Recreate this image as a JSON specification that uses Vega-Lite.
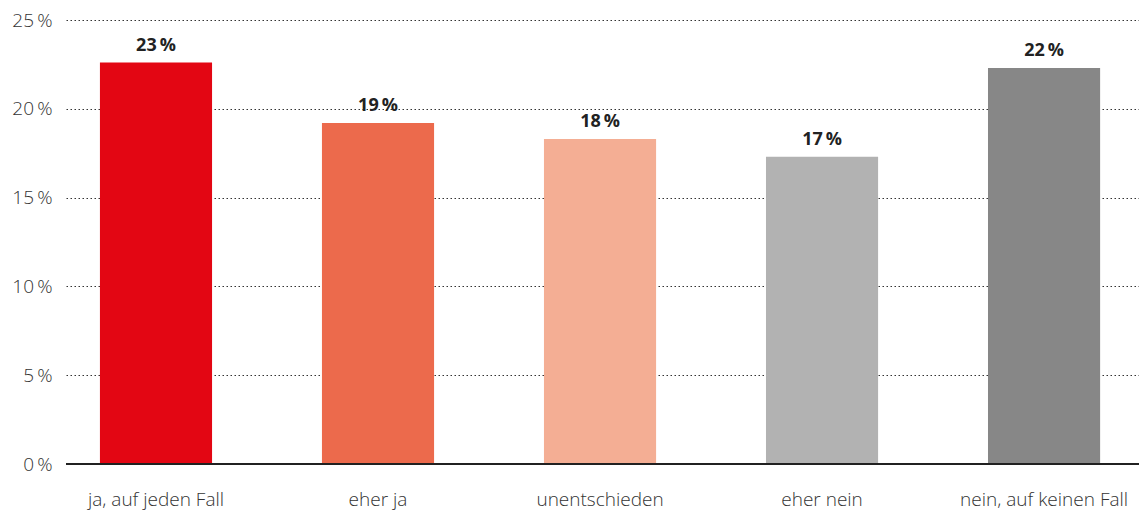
{
  "$schema": "https://vega.github.io/schema/vega-lite/v6.json",
  "width": 1073,
  "height": 444,
  "autosize": {"type": "none"},
  "padding": {"left": 66, "top": 20, "right": 0, "bottom": 48},
  "background": "white",
  "config": {"view": {"stroke": null}, "font": "Open Sans"},
  "data": {"values": [
    {"kategorie": "ja, auf jeden Fall", "wert": 22.6, "label": "23\u2009%"},
    {"kategorie": "eher ja", "wert": 19.2, "label": "19\u2009%"},
    {"kategorie": "unentschieden", "wert": 18.3, "label": "18\u2009%"},
    {"kategorie": "eher nein", "wert": 17.3, "label": "17\u2009%"},
    {"kategorie": "nein, auf keinen Fall", "wert": 22.3, "label": "22\u2009%"}
  ]},
  "encoding": {
    "x": {"field": "kategorie", "type": "nominal", "sort": null,
      "scale": {"paddingInner": 0.495, "paddingOuter": 0.164, "align": 0.466},
      "axis": {"title": null, "labelAngle": 0, "ticks": false, "domain": false, "labelFontSize": 19, "labelFontWeight": 300, "labelColor": "#333333", "labelPadding": 26, "labelFont": "Open Sans"}},
    "y": {"field": "wert", "type": "quantitative",
      "scale": {"domain": [0, 25]},
      "axis": {"title": null, "values": [0, 5, 10, 15, 20, 25], "ticks": false, "domain": false, "grid": true, "gridDash": [1.5, 2.5], "gridColor": "#333333", "gridWidth": 1.2, "labelFontSize": 19, "labelFontWeight": 300, "labelColor": "#333333", "labelPadding": 14, "labelExpr": "datum.value + '\u2009%'", "labelFont": "Open Sans"}}
  },
  "layer": [
    {"mark": {"type": "bar"},
     "encoding": {"color": {"field": "kategorie", "type": "nominal", "sort": null, "legend": null,
       "scale": {"domain": ["ja, auf jeden Fall", "eher ja", "unentschieden", "eher nein", "nein, auf keinen Fall"],
                 "range": ["#E30613", "#EC6A4C", "#F4AE94", "#B2B2B2", "#878787"]}}}},
    {"mark": {"type": "text", "baseline": "alphabetic", "dy": -12, "fontSize": 18, "fontWeight": "bold", "color": "#222222", "font": "Open Sans"},
     "encoding": {"text": {"field": "label", "type": "nominal"}}},
    {"mark": {"type": "rule", "color": "#222222", "strokeWidth": 1.5},
     "encoding": {"y": {"datum": 0}, "x": null}}
  ]
}
